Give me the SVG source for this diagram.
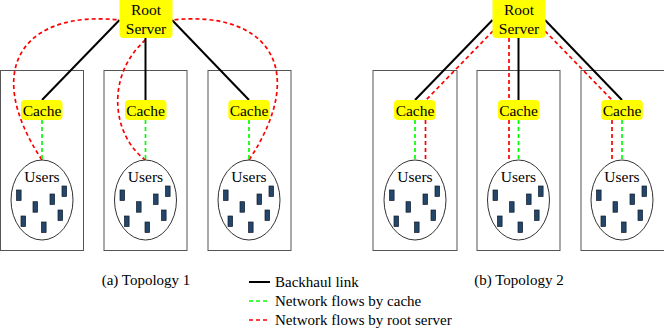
<svg xmlns="http://www.w3.org/2000/svg" xmlns:xlink="http://www.w3.org/1999/xlink" width="664" height="332" viewBox="0 0 664 332" font-family="'Liberation Serif', 'Times New Roman', serif">
<style>
text{font-family:'Liberation Serif','Times New Roman',serif;fill:#000}
.lbl{font-family:'Liberation Serif','Times New Roman',serif;font-size:15.5px;text-anchor:middle}
.cap{font-family:'Liberation Serif','Times New Roman',serif;font-size:15px}
.region{fill:none;stroke:#555;stroke-width:1}
.yel{fill:#ffff00;stroke:none}
.users{fill:#fff;stroke:#333;stroke-width:1}
.dev{fill:#24466a;stroke:#0d1a2a;stroke-width:0.7}
.bh{fill:none;stroke:#000;stroke-width:2}
.gr{fill:none;stroke:#00ff00;stroke-width:1.7;stroke-dasharray:4 3}
.rd{fill:none;stroke:#ff0000;stroke-width:1.7;stroke-dasharray:4 3}
</style>
<defs>
<g id="devs">
<rect class="dev" x="-25.5" y="-10" width="4.6" height="10.5"/>
<rect class="dev" x="20" y="-14" width="4.6" height="10.5"/>
<rect class="dev" x="8" y="-6" width="4.6" height="10.5"/>
<rect class="dev" x="-9" y="1.7" width="4.6" height="10.5"/>
<rect class="dev" x="16" y="10" width="4.6" height="10.5"/>
<rect class="dev" x="-21" y="16" width="4.6" height="10.5"/>
<rect class="dev" x="-0.5" y="22" width="4.6" height="10.5"/>
</g>
</defs>

<!-- Panel (a) -->
<g id="panel-a">
<g id="region-a1"><rect class="region" x="0.5" y="70.5" width="83" height="180"/></g>
<g id="region-a2"><rect class="region" x="104" y="70.5" width="83" height="180"/></g>
<g id="region-a3"><rect class="region" x="208" y="70.5" width="83" height="180"/></g>

<g id="connectors-a">
<path class="rd" d="M42,160 C-20,66 26,10 119.5,20"/>
<path class="rd" d="M145.5,40 C105.5,75 111.5,135 145.5,160"/>
<path class="rd" d="M249,160 C311,66 265,10 172,20"/>
<line class="bh" x1="119.5" y1="20" x2="42" y2="100"/>
<line class="bh" x1="145.5" y1="38" x2="145.5" y2="100"/>
<line class="bh" x1="172" y1="20" x2="249" y2="100"/>
<line class="gr" x1="42" y1="120" x2="42" y2="160"/>
<line class="gr" x1="145.5" y1="120" x2="145.5" y2="160"/>
<line class="gr" x1="249" y1="120" x2="249" y2="160"/>
</g>

<g id="root-a">
<rect class="yel" x="119.5" y="-5" width="53" height="43" rx="4"/>
<text class="lbl" x="146" y="15">Root</text>
<text class="lbl" x="146" y="34">Server</text>
</g>
<g id="cache-a1"><rect class="yel" x="21" y="100" width="41.5" height="20" rx="4"/><text class="lbl" x="42" y="115.5">Cache</text></g>
<g id="cache-a2"><rect class="yel" x="125" y="100" width="41.5" height="20" rx="4"/><text class="lbl" x="145.5" y="115.5">Cache</text></g>
<g id="cache-a3"><rect class="yel" x="228.3" y="100" width="41.5" height="20" rx="4"/><text class="lbl" x="249" y="115.5">Cache</text></g>

<g id="users-a1"><ellipse class="users" cx="42" cy="200" rx="31" ry="40"/><text class="lbl" x="42" y="181.5">Users</text><use xlink:href="#devs" x="42" y="200"/></g>
<g id="users-a2"><ellipse class="users" cx="145.5" cy="200" rx="31" ry="40"/><text class="lbl" x="145.5" y="181.5">Users</text><use xlink:href="#devs" x="145.5" y="200"/></g>
<g id="users-a3"><ellipse class="users" cx="249" cy="200" rx="31" ry="40"/><text class="lbl" x="249" y="181.5">Users</text><use xlink:href="#devs" x="249" y="200"/></g>

<text class="cap" x="146" y="284.5" text-anchor="middle">(a) Topology 1</text>
</g>

<!-- Panel (b) -->
<g id="panel-b">
<g id="region-b1"><rect class="region" x="373" y="70.5" width="84" height="180"/></g>
<g id="region-b2"><rect class="region" x="477" y="70.5" width="83" height="180"/></g>
<g id="region-b3"><rect class="region" x="581" y="70.5" width="84" height="180"/></g>

<g id="connectors-b">
<line class="bh" x1="492.5" y1="20" x2="415" y2="100"/>
<line class="bh" x1="518.5" y1="38" x2="518.5" y2="100"/>
<line class="bh" x1="545" y1="20" x2="622" y2="100"/>
<line class="rd" x1="493" y1="31" x2="426" y2="100"/>
<line class="rd" x1="509" y1="38" x2="509" y2="100"/>
<line class="rd" x1="545" y1="31" x2="612" y2="100"/>
<line class="gr" x1="415" y1="120" x2="415" y2="160"/>
<line class="rd" x1="425.5" y1="120" x2="425.5" y2="162"/>
<line class="gr" x1="518.5" y1="120" x2="518.5" y2="160"/>
<line class="rd" x1="509" y1="120" x2="509" y2="162"/>
<line class="gr" x1="622" y1="120" x2="622" y2="160"/>
<line class="rd" x1="612" y1="120" x2="612" y2="162"/>
</g>

<g id="root-b">
<rect class="yel" x="492.5" y="-5" width="53" height="43" rx="4"/>
<text class="lbl" x="519" y="15">Root</text>
<text class="lbl" x="519" y="34">Server</text>
</g>
<g id="cache-b1"><rect class="yel" x="394" y="100" width="41.5" height="20" rx="4"/><text class="lbl" x="415" y="115.5">Cache</text></g>
<g id="cache-b2"><rect class="yel" x="498" y="100" width="41.5" height="20" rx="4"/><text class="lbl" x="518.5" y="115.5">Cache</text></g>
<g id="cache-b3"><rect class="yel" x="601.3" y="100" width="41.5" height="20" rx="4"/><text class="lbl" x="622" y="115.5">Cache</text></g>

<g id="users-b1"><ellipse class="users" cx="415" cy="200" rx="31" ry="40"/><text class="lbl" x="415" y="181.5">Users</text><use xlink:href="#devs" x="415" y="200"/></g>
<g id="users-b2"><ellipse class="users" cx="518.5" cy="200" rx="31" ry="40"/><text class="lbl" x="518.5" y="181.5">Users</text><use xlink:href="#devs" x="518.5" y="200"/></g>
<g id="users-b3"><ellipse class="users" cx="622" cy="200" rx="31" ry="40"/><text class="lbl" x="622" y="181.5">Users</text><use xlink:href="#devs" x="622" y="200"/></g>

<text class="cap" x="519" y="284.5" text-anchor="middle">(b) Topology 2</text>
</g>

<!-- Legend -->
<g id="legend">
<line class="bh" x1="249" y1="282" x2="270" y2="282"/>
<text class="cap" x="275" y="286.5">Backhaul link</text>
<line class="gr" x1="249" y1="301" x2="270" y2="301"/>
<text class="cap" x="275" y="305.5">Network flows by cache</text>
<line class="rd" x1="249" y1="320" x2="270" y2="320"/>
<text class="cap" x="275" y="324.5">Network flows by root server</text>
</g>
</svg>
